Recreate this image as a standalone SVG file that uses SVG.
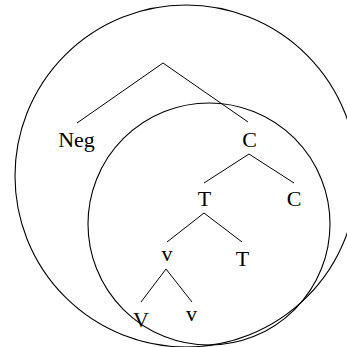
<svg xmlns="http://www.w3.org/2000/svg" width="347" height="347" viewBox="0 0 347 347">
<style>
.lbl{font-family:"Liberation Serif","Times New Roman",serif;font-size:22px;fill:#000;text-anchor:middle}
.edge{stroke:#000;stroke-width:1;fill:none}
.ring{stroke:#000;stroke-width:1.1;fill:none}
</style>
<rect width="347" height="347" fill="#fff"/>
<g id="circles">
<circle class="ring" cx="186" cy="176" r="171"/>
<circle class="ring" cx="209" cy="224" r="121"/>
</g>
<g id="connectors">
<path class="edge" d="M77 123 L163 63 L248 122"/>
<path class="edge" d="M204 183 L249 154 L294 183"/>
<path class="edge" d="M167 242 L204 213 L242 242"/>
<path class="edge" d="M141 302 L166 269 L192 302"/>
</g>
<g id="node-neg"><text class="lbl" x="76.5" y="147">Neg</text></g>
<g id="node-c1"><text class="lbl" x="249.5" y="147">C</text></g>
<g id="node-t1"><text class="lbl" x="204.5" y="206">T</text></g>
<g id="node-c2"><text class="lbl" x="294" y="206">C</text></g>
<g id="node-v1"><text class="lbl" x="167" y="261">v</text></g>
<g id="node-t2"><text class="lbl" x="242.5" y="266">T</text></g>
<g id="node-V"><text class="lbl" x="141" y="327">V</text></g>
<g id="node-v2"><text class="lbl" x="191.5" y="321">v</text></g>
</svg>
